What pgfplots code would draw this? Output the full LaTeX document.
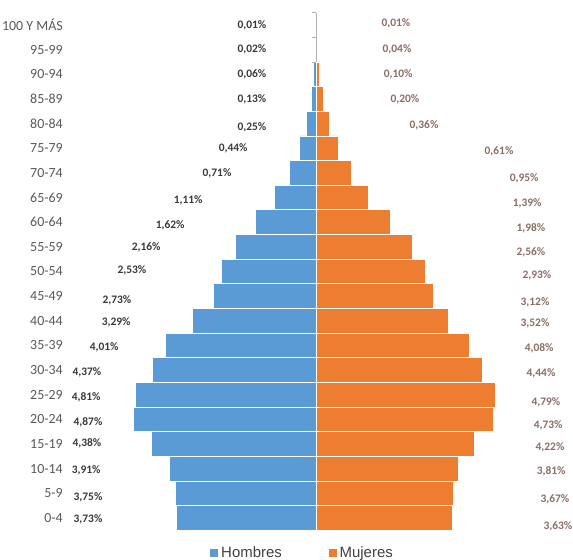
\documentclass[border=0pt]{standalone}
\usepackage{fontspec}
\setmainfont{Carlito}
\newfontfamily\legfont{Liberation Sans}
\usepackage{pgfplots}
\usepackage{pgfplotstable}
\pgfplotsset{compat=1.18}

\definecolor{hombres}{HTML}{5B9BD5}
\definecolor{mujeres}{HTML}{ED7D31}
\definecolor{agetext}{HTML}{595959}
\definecolor{hlab}{HTML}{3A3A3A}
\definecolor{mlab}{HTML}{8A6E66}
\definecolor{legtext}{HTML}{404040}

% row 0 = 0-4 ... row 20 = 100 y mas
\pgfplotstableread{
row men   women
0   3.73  3.63
1   3.75  3.67
2   3.91  3.81
3   4.38  4.22
4   4.87  4.73
5   4.81  4.79
6   4.37  4.44
7   4.01  4.08
8   3.29  3.52
9   2.73  3.12
10  2.53  2.93
11  2.16  2.56
12  1.62  1.98
13  1.11  1.39
14  0.71  0.95
15  0.44  0.61
16  0.25  0.36
17  0.13  0.20
18  0.06  0.10
19  0.02  0.04
20  0.01  0.01
}\piramide

% label positions as placed in the original chart
\pgfplotstableread{
x      y      lab
-1.71  20.00  0,01
-1.71  19.03  0,02
-1.71  18.01  0,06
-1.71  17.00  0,13
-1.71  15.86  0,25
-2.21  15.01  0,44
-2.64  14.00  0,71
-3.41  12.90  1,11
-3.89  11.89  1,62
-4.53  10.99  2,16
-4.91  10.06  2,53
-5.31  8.84   2,73
-5.33  7.95   3,29
-5.65  6.94   4,01
-6.11  5.92   4,37
-6.13  4.91   4,81
-6.08  3.89   4,87
-6.11  3.04   4,38
-6.13  1.95   3,91
-6.08  0.85   3,75
-6.08  -0.04  3,73
}\labhombres

\pgfplotstableread{
x     y      lab
2.13  20.08  0,01
2.16  19.03  0,04
2.19  18.01  0,10
2.37  17.00  0,20
2.88  15.94  0,36
4.88  14.89  0,61
5.55  13.79  0,95
5.63  12.78  1,39
5.73  11.76  1,98
5.73  10.79  2,56
5.89  9.86   2,93
5.84  8.76   3,12
5.84  7.91   3,52
5.95  6.90   4,08
6.00  5.88   4,44
6.13  4.71   4,79
6.19  3.77   4,73
6.24  2.88   4,22
6.27  1.91   3,81
6.37  0.77   3,67
6.45  -0.32  3,63
}\labmujeres

\begin{document}
\begin{tikzpicture}
\path[use as bounding box] (0,0) rectangle (573bp,560bp);
\begin{axis}[
    at={(316bp,42bp)}, anchor=origin,
    scale only axis,
    x=37.5bp, y=24.65bp,
    xmin=-6.747, xmax=6.85,
    ymin=-0.5, ymax=20.5,
    clip=false,
    axis line style={draw=none},
    major tick length=0pt,
    xtick=\empty,
    ytick={0,...,20},
    yticklabels={0-4,5-9,10-14,15-19,20-24,25-29,30-34,35-39,40-44,45-49,50-54,55-59,60-64,65-69,70-74,75-79,80-84,85-89,90-94,95-99,100 Y MÁS},
    yticklabel style={anchor=east, inner sep=0pt, text=agetext,
        font=\fontsize{14}{16}\selectfont},
    legend style={at={(axis cs:-0.37,-1.42)}, anchor=center, draw=none, fill=none,
        legend columns=2, text=legtext,
        font=\legfont\fontsize{15}{17}\selectfont,
        /tikz/every even column/.append style={column sep=44bp}},
    legend image code/.code={\fill[#1] (0bp,-4.5bp) rectangle (9bp,4.5bp);},
  ]
  \addplot[xbar, bar width=1, bar shift=0pt, fill=hombres, draw=white, line width=0.8bp]
     table[x expr=-\thisrow{men}, y=row] {\piramide};
  \addlegendentry{Hombres}
  \addplot[xbar, bar width=1, bar shift=0pt, fill=mujeres, draw=white, line width=0.8bp]
     table[x=women, y=row] {\piramide};
  \addlegendentry{Mujeres}

  % category axis line at x = 0, visible only where the bars are tiny
  \draw[gray!60, line width=0.6bp] (axis cs:0,18.5) -- (axis cs:0,20.5);
  \draw[gray!60, line width=0.6bp]
       (axis cs:0,20.5) -- (axis cs:-0.1,20.5)
       (axis cs:0,19.5) -- (axis cs:-0.1,19.5)
       (axis cs:0,18.5) -- (axis cs:-0.1,18.5);

  \addplot[draw=none, mark=none, forget plot, point meta=explicit symbolic,
     nodes near coords={\pgfplotspointmeta\%},
     nodes near coords style={anchor=center, inner sep=0pt, text=hlab,
        font=\fontsize{11.5}{13}\selectfont\bfseries}]
     table[x=x, y=y, meta=lab] {\labhombres};
  \addplot[draw=none, mark=none, forget plot, point meta=explicit symbolic,
     nodes near coords={\pgfplotspointmeta\%},
     nodes near coords style={anchor=center, inner sep=0pt, text=mlab,
        font=\fontsize{11.5}{13}\selectfont\bfseries}]
     table[x=x, y=y, meta=lab] {\labmujeres};
\end{axis}
\end{tikzpicture}
\end{document}
